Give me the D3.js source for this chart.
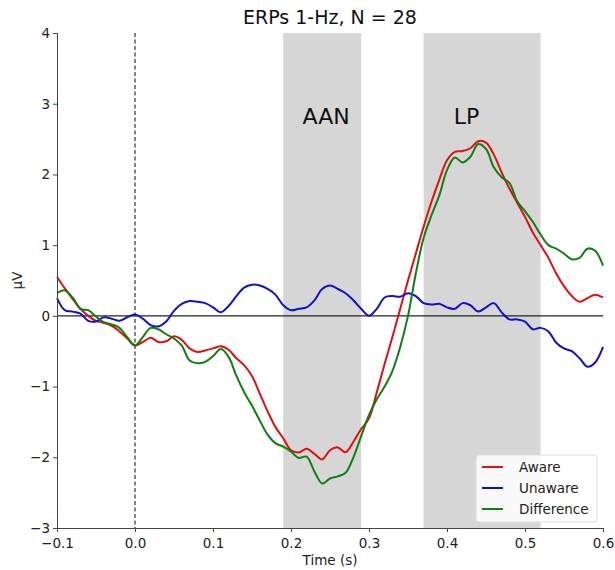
<!DOCTYPE html>
<html>
<head>
<meta charset="utf-8">
<script src="https://cdnjs.cloudflare.com/ajax/libs/d3/7.8.5/d3.min.js"></script>
<style>
	body {
		padding: 0;
		margin: 0;
		background: #fff;
	}
	text {
		font-family: "DejaVu Sans", sans-serif;
		fill: #222;
	}
	.axis path, .axis line {
		stroke: #444;
	}
	.axis text {
		font-size: 13.5px;
		fill: #222;
	}
</style>
</head>
<body>
<div id="content"></div>
<script>

// Time points (s), one every 10 ms
var times = d3.range(-10, 61).map(function(d) { return d / 100; });

// Grand-average amplitudes (µV)
var aware = [0.55, 0.39, 0.24, 0.10, 0.00, -0.07, -0.10, -0.14, -0.22, -0.32,
	-0.42, -0.37, -0.31, -0.37, -0.36, -0.29, -0.34, -0.46, -0.51, -0.49,
	-0.46, -0.43, -0.48, -0.60, -0.70, -0.85, -1.10, -1.35, -1.57, -1.73,
	-1.90, -1.93, -1.88, -1.95, -2.03, -1.90, -1.86, -1.93, -1.78, -1.60,
	-1.45, -1.08, -0.68, -0.30, 0.10, 0.50, 0.88, 1.26, 1.61, 1.92,
	2.20, 2.32, 2.33, 2.37, 2.47, 2.45, 2.28, 2.03, 1.80, 1.60,
	1.40, 1.18, 1.00, 0.82, 0.60, 0.42, 0.28, 0.20, 0.25, 0.30,
	0.26];
var unaware = [0.25, 0.08, 0.06, 0.03, -0.07, -0.08, -0.02, -0.04, -0.07, -0.02,
	0.02, -0.04, -0.13, -0.15, -0.08, 0.07, 0.17, 0.21, 0.20, 0.18,
	0.12, 0.05, 0.14, 0.28, 0.40, 0.44, 0.43, 0.38, 0.30, 0.15,
	0.08, 0.10, 0.12, 0.22, 0.38, 0.43, 0.38, 0.32, 0.22, 0.10,
	0.00, 0.10, 0.26, 0.28, 0.27, 0.32, 0.28, 0.18, 0.16, 0.17,
	0.12, 0.10, 0.18, 0.15, 0.06, 0.12, 0.18, 0.05, -0.05, -0.05,
	-0.08, -0.19, -0.17, -0.22, -0.38, -0.46, -0.50, -0.60, -0.72, -0.66,
	-0.44];
var difference = [0.32, 0.36, 0.26, 0.10, 0.08, -0.01, -0.09, -0.12, -0.17, -0.30,
	-0.42, -0.30, -0.17, -0.19, -0.26, -0.32, -0.42, -0.63, -0.67, -0.65,
	-0.57, -0.47, -0.58, -0.85, -1.08, -1.27, -1.48, -1.68, -1.80, -1.85,
	-1.92, -2.01, -1.99, -2.20, -2.37, -2.30, -2.27, -2.22, -2.00, -1.70,
	-1.40, -1.18, -1.00, -0.78, -0.44, 0.00, 0.60, 1.10, 1.42, 1.70,
	2.06, 2.24, 2.17, 2.25, 2.43, 2.36, 2.10, 1.96, 1.88, 1.62,
	1.48, 1.33, 1.15, 1.00, 0.95, 0.88, 0.80, 0.82, 0.95, 0.92,
	0.71];

var seriesNames = ['Aware', 'Unaware', 'Difference'];
var seriesColors = ['#e01010', '#1010d0', '#0f7f0f'];

// Shaded time windows
var windowNames = ['AAN', 'LP'];
var windowStarts = [0.19, 0.37];
var windowEnds = [0.29, 0.52];

var xTicks = [-0.1, 0.0, 0.1, 0.2, 0.3, 0.4, 0.5, 0.6];
var yTicks = [-3, -2, -1, 0, 1, 2, 3, 4];

var w = 615, h = 570;
var margin = {top: 33, right: 12, bottom: 42, left: 57};

var svg = d3.select('#content')
	.append('svg')
	.attr('width', w)
	.attr('height', h);

var x = d3.scaleLinear().domain([-0.1, 0.6]).range([margin.left, w - margin.right]);
var y = d3.scaleLinear().domain([-3, 4]).range([h - margin.bottom, margin.top]);

// Grey windows, labels sit a bit right of each window's start
var labelOffsets = [0.055, 0.055];
windowNames.forEach(function(name, i) {
	svg.append('rect')
		.attr('x', x(windowStarts[i]))
		.attr('y', y(4))
		.attr('width', x(windowEnds[i]) - x(windowStarts[i]))
		.attr('height', y(-3) - y(4))
		.attr('fill', '#d6d6d6');
	svg.append('text')
		.attr('x', x(windowStarts[i] + labelOffsets[i]))
		.attr('y', y(2.72))
		.attr('text-anchor', 'middle')
		.style('font-size', '22px')
		.style('fill', '#111')
		.text(name);
});

// Zero line and stimulus onset
svg.append('line')
	.attr('x1', x(-0.1)).attr('x2', x(0.6))
	.attr('y1', y(0)).attr('y2', y(0))
	.attr('stroke', '#222').attr('stroke-width', 1.2);
svg.append('line')
	.attr('x1', x(0)).attr('x2', x(0))
	.attr('y1', y(4)).attr('y2', y(-3))
	.attr('stroke', '#333').attr('stroke-width', 1.2)
	.attr('stroke-dasharray', '4,2.5');

// Traces
var line = d3.line()
	.x(function(d, i) { return x(times[i]); })
	.y(function(d) { return y(d); })
	.curve(d3.curveCatmullRom.alpha(0.5));

[aware, unaware, difference].forEach(function(vals, k) {
	svg.append('path')
		.datum(vals)
		.attr('d', line)
		.attr('fill', 'none')
		.attr('stroke', seriesColors[k])
		.attr('stroke-width', 2);
});

// Axes
svg.append('g')
	.attr('class', 'axis')
	.attr('transform', 'translate(0,' + (h - margin.bottom) + ')')
	.call(d3.axisBottom(x).tickValues(xTicks).tickSizeOuter(0).tickSize(4)
		.tickFormat(function(d) { return d3.format('.1f')(d).replace('-', '\u2212'); }))
	.call(function(g) { g.selectAll('text').attr('dy', '0.95em'); });

svg.append('g')
	.attr('class', 'axis')
	.attr('transform', 'translate(' + margin.left + ',0)')
	.call(d3.axisLeft(y).tickValues(yTicks).tickSizeOuter(0).tickSize(4)
		.tickFormat(function(d) { return String(d).replace('-', '\u2212'); }));

// Labels
svg.append('text')
	.attr('x', (margin.left + w - margin.right) / 2)
	.attr('y', 24)
	.attr('text-anchor', 'middle')
	.style('font-size', '19px')
	.style('fill', '#111')
	.text('ERPs 1-Hz, N = 28');

svg.append('text')
	.attr('x', (margin.left + w - margin.right) / 2)
	.attr('y', 565)
	.attr('text-anchor', 'middle')
	.style('font-size', '13.5px')
	.text('Time (s)');

svg.append('text')
	.attr('transform', 'translate(22,' + y(0.5) + ') rotate(-90)')
	.attr('text-anchor', 'middle')
	.style('font-size', '13.5px')
	.text('\u00b5V');

// Legend
var legend = svg.append('g').attr('transform', 'translate(476,455)');
legend.append('rect')
	.attr('width', 121).attr('height', 67)
	.attr('rx', 3)
	.attr('fill', 'rgba(255,255,255,0.85)')
	.attr('stroke', '#ddd');
seriesNames.forEach(function(name, k) {
	var ly = 12 + k * 21;
	legend.append('line')
		.attr('x1', 6).attr('x2', 27)
		.attr('y1', ly).attr('y2', ly)
		.attr('stroke', seriesColors[k]).attr('stroke-width', 2);
	legend.append('text')
		.attr('x', 43).attr('y', ly + 5)
		.style('font-size', '13.5px')
		.text(name);
});

</script>
</body>
</html>
